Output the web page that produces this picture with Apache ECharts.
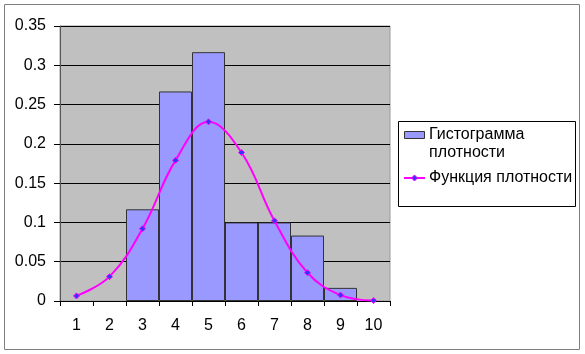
<!DOCTYPE html>
<html>
<head>
<meta charset="utf-8">
<script src="https://cdn.jsdelivr.net/npm/echarts@6/dist/echarts.min.js"></script>
<style>
  html, body { margin: 0; padding: 0; background: #fff; }
  #chart { width: 585px; height: 354px; }
</style>
</head>
<body>
<div id="chart"></div>
<script>
// categories on the x axis
const categories = ["1", "2", "3", "4", "5", "6", "7", "8", "9", "10"];
// histogram of density (bars), only 3..9 have values
const histValues = [null, null, 0.1167, 0.2667, 0.3167, 0.1, 0.1, 0.0833, 0.0167, null];
// density function (smooth line)
const densityValues = [0.0065, 0.031, 0.092, 0.179, 0.228, 0.189, 0.102, 0.036, 0.0075, 0.0005];
const yTicks = { min: 0, max: 0.35, interval: 0.05 };
const seriesNames = ["Гистограмма плотности", "Функция плотности"];

const font = "Liberation Sans";
const barColor = "#9999FF";
const lineColor = "#FF00FF";

const chart = echarts.init(document.getElementById("chart"), null, { renderer: "canvas" });

// legend drawn by hand, Excel style (icon lines up with the first text line)
const lx = 398.5, ly = 121.5;
const legendGraphics = [
  {
    type: "rect",
    shape: { x: lx, y: ly, width: 177, height: 85 },
    style: { fill: "#fff", stroke: "#000", lineWidth: 1 }
  },
  {
    type: "rect",
    shape: { x: 404.5, y: 131.5, width: 20, height: 7 },
    style: { fill: barColor, stroke: "#333", lineWidth: 1 }
  },
  {
    type: "text",
    x: 429, y: 135,
    style: { text: "Гистограмма\nплотности", font: "16px " + font, fill: "#000",
             verticalAlign: "top", lineHeight: 18, y: -9 }
  },
  {
    type: "line",
    shape: { x1: 404, y1: 178, x2: 425, y2: 178 },
    style: { stroke: lineColor, lineWidth: 2 }
  },
  {
    type: "polygon",
    shape: { points: [[414.5, 175], [417.5, 178], [414.5, 181], [411.5, 178]] },
    style: { fill: "#3333FF", stroke: lineColor, lineWidth: 1 }
  },
  {
    type: "text",
    x: 429, y: 178,
    style: { text: seriesNames[1], font: "16px " + font, fill: "#000", verticalAlign: "middle" }
  }
];

const option = {
  animation: false,
  backgroundColor: "#fff",
  textStyle: { fontFamily: font },
  graphic: [
    {
      type: "rect",
      shape: { x: 4.5, y: 4.5, width: 575, height: 345 },
      style: { fill: null, stroke: "#808080", lineWidth: 1 },
      silent: true
    }
  ].concat(legendGraphics),
  grid: {
    left: 60,
    right: 195,
    top: 26,
    bottom: 53,
    show: true,
    backgroundColor: "#C0C0C0",
    borderColor: "#9a9a9a",
    borderWidth: 1
  },
  xAxis: {
    type: "category",
    data: categories,
    boundaryGap: true,
    axisLine: { lineStyle: { color: "#000", width: 1 } },
    axisTick: { show: true, length: 5, lineStyle: { color: "#000" } },
    axisLabel: { fontFamily: font, fontSize: 16, color: "#000", margin: 17 },
    splitLine: { show: false }
  },
  yAxis: {
    type: "value",
    min: yTicks.min,
    max: yTicks.max,
    interval: yTicks.interval,
    axisLine: { show: true, lineStyle: { color: "#555", width: 1 } },
    axisTick: { show: true, length: 6, lineStyle: { color: "#000" } },
    axisLabel: { fontFamily: font, fontSize: 16, color: "#000", margin: 14 },
    splitLine: { show: true, lineStyle: { color: "#000", width: 1 } }
  },
  series: [
    {
      name: seriesNames[0],
      type: "bar",
      data: histValues,
      barWidth: "100%",
      barGap: "-100%",
      itemStyle: { color: barColor, borderColor: "#333", borderWidth: 1 },
      z: 2
    },
    {
      name: seriesNames[1],
      type: "line",
      data: densityValues,
      smooth: 0.4,
      symbol: "diamond",
      symbolSize: 6,
      lineStyle: { color: lineColor, width: 2 },
      itemStyle: { color: "#3333FF", borderColor: lineColor, borderWidth: 1 },
      z: 3
    }
  ]
};

chart.setOption(option);
</script>
</body>
</html>
